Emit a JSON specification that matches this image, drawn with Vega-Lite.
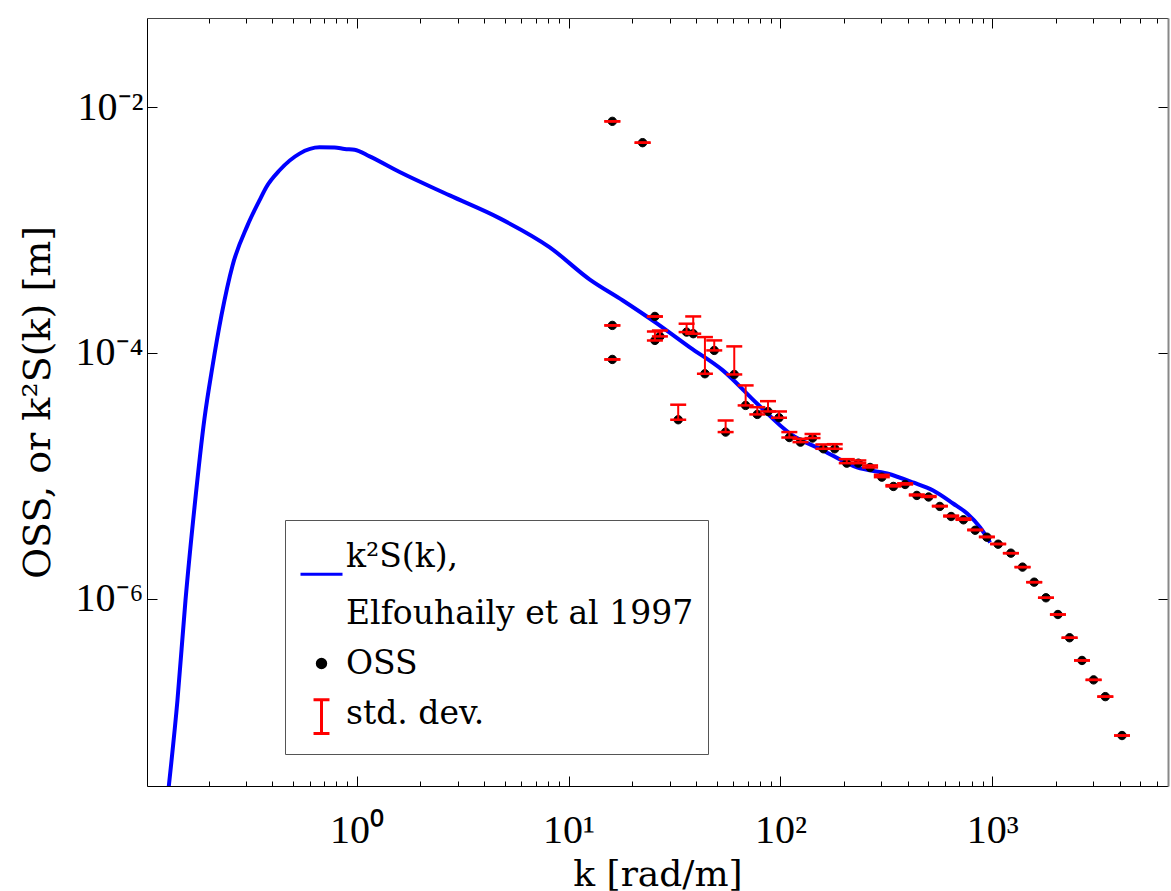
{
  "$schema": "https://vega.github.io/schema/vega-lite/v6.json",
  "width": 1021,
  "height": 768,
  "autosize": {"type": "none"},
  "padding": {"left": 147, "top": 18, "right": 3, "bottom": 105},
  "background": "white",
  "config": {
    "font": "DejaVu Serif",
    "view": {"stroke": null},
    "axis": {"grid": false, "tickColor": "black", "domainColor": "black", "labelColor": "black", "titleColor": "black", "titleFontWeight": "normal"}
  },
  "datasets": {
    "model": [
      {"k": 0.1298, "v": 2.95e-8},
      {"k": 0.1427, "v": 1.49e-7},
      {"k": 0.1557, "v": 9.68e-7},
      {"k": 0.1717, "v": 5.53e-6},
      {"k": 0.1914, "v": 2.93e-5},
      {"k": 0.2088, "v": 7.76e-5},
      {"k": 0.2302, "v": 2.02e-4},
      {"k": 0.2597, "v": 5.15e-4},
      {"k": 0.3056, "v": 1.09e-3},
      {"k": 0.348, "v": 1.74e-3},
      {"k": 0.3746, "v": 2.23e-3},
      {"k": 0.4329, "v": 3.06e-3},
      {"k": 0.538, "v": 4.18e-3},
      {"k": 0.6685, "v": 4.70e-3},
      {"k": 0.787, "v": 4.68e-3},
      {"k": 0.878, "v": 4.56e-3},
      {"k": 0.978, "v": 4.50e-3},
      {"k": 1.152, "v": 3.97e-3},
      {"k": 1.596, "v": 2.96e-3},
      {"k": 2.75, "v": 1.91e-3},
      {"k": 4.74, "v": 1.243e-3},
      {"k": 8.16, "v": 7.22e-4},
      {"k": 12.61, "v": 3.95e-4},
      {"k": 18.05, "v": 2.67e-4},
      {"k": 26.1, "v": 1.74e-4},
      {"k": 37.4, "v": 1.11e-4},
      {"k": 53.5, "v": 7.21e-5},
      {"k": 77.5, "v": 3.88e-5},
      {"k": 111, "v": 2.21e-5},
      {"k": 159, "v": 1.61e-5},
      {"k": 230, "v": 1.17e-5},
      {"k": 319, "v": 1.045e-5},
      {"k": 423, "v": 8.83e-6},
      {"k": 526, "v": 7.60e-6},
      {"k": 653, "v": 5.96e-6},
      {"k": 761, "v": 4.94e-6},
      {"k": 877, "v": 3.80e-6},
      {"k": 977, "v": 2.87e-6}
    ],
    "oss": [
      {"k": 16.1, "v": 7.65e-3, "hi": 7.65e-3},
      {"k": 22.37, "v": 5.13e-3, "hi": 5.13e-3},
      {"k": 16.1, "v": 1.674e-4, "hi": 1.674e-4},
      {"k": 16.1, "v": 8.85e-5, "hi": 8.85e-5},
      {"k": 25.57, "v": 1.98e-4, "hi": 1.98e-4},
      {"k": 25.57, "v": 1.264e-4, "hi": 1.496e-4},
      {"k": 27.0, "v": 1.362e-4, "hi": 1.521e-4},
      {"k": 32.94, "v": 2.86e-5, "hi": 3.79e-5},
      {"k": 36.09, "v": 1.477e-4, "hi": 1.728e-4},
      {"k": 38.78, "v": 1.433e-4, "hi": 1.98e-4},
      {"k": 44.04, "v": 6.77e-5, "hi": 1.345e-4},
      {"k": 48.73, "v": 1.048e-4, "hi": 1.264e-4},
      {"k": 55.15, "v": 2.27e-5, "hi": 2.82e-5},
      {"k": 60.57, "v": 6.68e-5, "hi": 1.13e-4},
      {"k": 68.55, "v": 3.74e-5, "hi": 5.44e-5},
      {"k": 77.8, "v": 3.16e-5, "hi": 3.62e-5},
      {"k": 87.4, "v": 3.34e-5, "hi": 4.05e-5},
      {"k": 98.5, "v": 2.97e-5, "hi": 3.34e-5},
      {"k": 110.2, "v": 2.05e-5, "hi": 2.27e-5},
      {"k": 124.4, "v": 1.88e-5, "hi": 2.0e-5},
      {"k": 141.8, "v": 2.03e-5, "hi": 2.19e-5},
      {"k": 159.5, "v": 1.66e-5, "hi": 1.80e-5},
      {"k": 180.5, "v": 1.66e-5, "hi": 1.81e-5},
      {"k": 205.7, "v": 1.268e-5, "hi": 1.367e-5},
      {"k": 233.3, "v": 1.268e-5, "hi": 1.334e-5},
      {"k": 265, "v": 1.17e-5, "hi": 1.215e-5},
      {"k": 301, "v": 9.76e-6, "hi": 1.02e-5},
      {"k": 341.5, "v": 8.2e-6, "hi": 8.4e-6},
      {"k": 387.8, "v": 8.51e-6, "hi": 8.7e-6},
      {"k": 440.5, "v": 6.93e-6, "hi": 7.05e-6},
      {"k": 500.6, "v": 6.73e-6, "hi": 6.85e-6},
      {"k": 565.6, "v": 5.64e-6, "hi": 5.7e-6},
      {"k": 639.5, "v": 4.67e-6, "hi": 4.75e-6},
      {"k": 731, "v": 4.39e-6, "hi": 4.5e-6},
      {"k": 830.5, "v": 3.61e-6, "hi": 3.65e-6},
      {"k": 943, "v": 3.17e-6, "hi": 3.2e-6},
      {"k": 1066, "v": 2.78e-6, "hi": 2.8e-6},
      {"k": 1224, "v": 2.35e-6, "hi": 2.35e-6},
      {"k": 1389, "v": 1.81e-6, "hi": 1.81e-6},
      {"k": 1577, "v": 1.365e-6, "hi": 1.365e-6},
      {"k": 1792, "v": 1.019e-6, "hi": 1.019e-6},
      {"k": 2041, "v": 7.45e-7, "hi": 7.45e-7},
      {"k": 2316, "v": 4.82e-7, "hi": 4.82e-7},
      {"k": 2651, "v": 3.15e-7, "hi": 3.15e-7},
      {"k": 3007, "v": 2.19e-7, "hi": 2.19e-7},
      {"k": 3415, "v": 1.60e-7, "hi": 1.60e-7},
      {"k": 4095, "v": 7.72e-8, "hi": 7.72e-8}
    ]
  },
  "resolve": {"axis": {"x": "independent", "y": "independent"}},
  "layer": [
    {
      "data": {"name": "model"},
      "mark": {"type": "line", "color": "#0000ff", "strokeWidth": 4, "clip": true, "interpolate": "monotone"},
      "encoding": {
        "x": {
          "field": "k", "type": "quantitative",
          "scale": {"type": "log", "domain": [0.1025, 6750], "nice": false},
          "axis": {
            "orient": "bottom",
            "values": [0.2, 0.3, 0.4, 0.5, 0.6, 0.7, 0.8, 0.9, 1, 2, 3, 4, 5, 6, 7, 8, 9, 10, 20, 30, 40, 50, 60, 70, 80, 90, 100, 200, 300, 400, 500, 600, 700, 800, 900, 1000, 2000, 3000, 4000, 5000, 6000],
            "labelExpr": "datum.value == 1 ? '10⁰' : datum.value == 10 ? '10¹' : datum.value == 100 ? '10²' : datum.value == 1000 ? '10³' : ''",
            "tickSize": {"condition": {"test": "abs(log(datum.value)/LN10 - round(log(datum.value)/LN10)) < 0.000001", "value": -10}, "value": -5},
            "labelPadding": 34,
            "labelFont": "Liberation Serif",
            "labelFontSize": 40,
            "labelOverlap": false,
            "labelFlush": false,
            "labelBound": false,
            "title": "k [rad/m]",
            "titleFont": "DejaVu Serif",
            "titleFontSize": 36,
            "titlePadding": 2
          }
        },
        "y": {
          "field": "v", "type": "quantitative",
          "scale": {"type": "log", "domain": [3e-8, 0.053], "nice": false},
          "axis": {
            "orient": "left",
            "values": [0.01, 0.0001, 0.000001],
            "labelExpr": "datum.value == 0.01 ? '10⁻²' : datum.value == 0.0001 ? '10⁻⁴' : '10⁻⁶'",
            "tickSize": -10,
            "labelPadding": 14,
            "labelFont": "Liberation Serif",
            "labelFontSize": 40,
            "labelOverlap": false,
            "labelFlush": false,
            "labelBound": false,
            "title": "OSS, or k²S(k) [m]",
            "titleFont": "DejaVu Serif",
            "titleFontSize": 38,
            "titlePadding": 18
          }
        }
      }
    },
    {
      "data": {"name": "oss"},
      "mark": {"type": "point", "size": 1764, "opacity": 1, "strokeWidth": 1},
      "encoding": {
        "x": {
          "field": "k", "type": "quantitative",
          "axis": {
            "orient": "top",
            "values": [0.2, 0.3, 0.4, 0.5, 0.6, 0.7, 0.8, 0.9, 1, 2, 3, 4, 5, 6, 7, 8, 9, 10, 20, 30, 40, 50, 60, 70, 80, 90, 100, 200, 300, 400, 500, 600, 700, 800, 900, 1000, 2000, 3000, 4000, 5000, 6000],
            "labels": false,
            "title": null,
            "domainColor": "#444",
            "tickSize": {"condition": {"test": "abs(log(datum.value)/LN10 - round(log(datum.value)/LN10)) < 0.000001", "value": -10}, "value": -5}
          }
        },
        "y": {
          "field": "v", "type": "quantitative",
          "axis": {
            "orient": "right",
            "values": [0.01, 0.0001, 0.000001],
            "labels": false,
            "title": null,
            "tickSize": -10,
            "domainColor": "#888",
            "domainWidth": 2
          }
        },
        "fill": {
          "datum": "OSS", "type": "nominal",
          "scale": {"domain": ["k²S(k),", "Elfouhaily et al 1997", "OSS", "std. dev."], "range": ["#0000ff", "transparent", "#000000", "#ff0000"]},
          "legend": {
            "title": null,
            "orient": "none",
            "legendX": 138,
            "legendY": 502,
            "strokeColor": "#555",
            "fillColor": "white",
            "padding": 14,
            "labelFont": "DejaVu Serif",
            "labelFontSize": 33,
            "labelColor": "black",
            "labelLimit": 700,
            "labelOffset": 2,
            "symbolSize": 1764,
            "symbolOpacity": 1,
            "symbolStrokeWidth": 3,
            "rowPadding": 10
          }
        },
        "stroke": {
          "datum": "OSS", "type": "nominal",
          "scale": {"domain": ["k²S(k),", "Elfouhaily et al 1997", "OSS", "std. dev."], "range": ["#0000ff", "transparent", "#000000", "#ff0000"]}
        },
        "shape": {
          "datum": "OSS", "type": "nominal",
          "scale": {"domain": ["k²S(k),", "Elfouhaily et al 1997", "OSS", "std. dev."], "range": ["M-1,0.85H1", "M0,0", "M0.2,0A0.2,0.2,0,1,1,-0.2,0A0.2,0.2,0,1,1,0.2,0Z", "M-0.38,-0.65H0.38M0,-0.65V0.95M-0.38,0.95H0.38"]}
        }
      }
    },
    {
      "data": {"name": "oss"},
      "mark": {"type": "rule", "color": "#ff0000", "strokeWidth": 2},
      "encoding": {
        "x": {"field": "k", "type": "quantitative", "axis": null},
        "y": {"field": "v", "type": "quantitative", "axis": null},
        "y2": {"field": "hi"}
      }
    },
    {
      "data": {"name": "oss"},
      "mark": {"type": "tick", "orient": "horizontal", "color": "#ff0000", "size": 16, "thickness": 2.5, "opacity": 1},
      "encoding": {
        "x": {"field": "k", "type": "quantitative", "axis": null},
        "y": {"field": "v", "type": "quantitative", "axis": null}
      }
    },
    {
      "data": {"name": "oss"},
      "mark": {"type": "tick", "orient": "horizontal", "color": "#ff0000", "size": 16, "thickness": 2.5, "opacity": 1},
      "encoding": {
        "x": {"field": "k", "type": "quantitative", "axis": null},
        "y": {"field": "hi", "type": "quantitative", "axis": null}
      }
    }
  ]
}
